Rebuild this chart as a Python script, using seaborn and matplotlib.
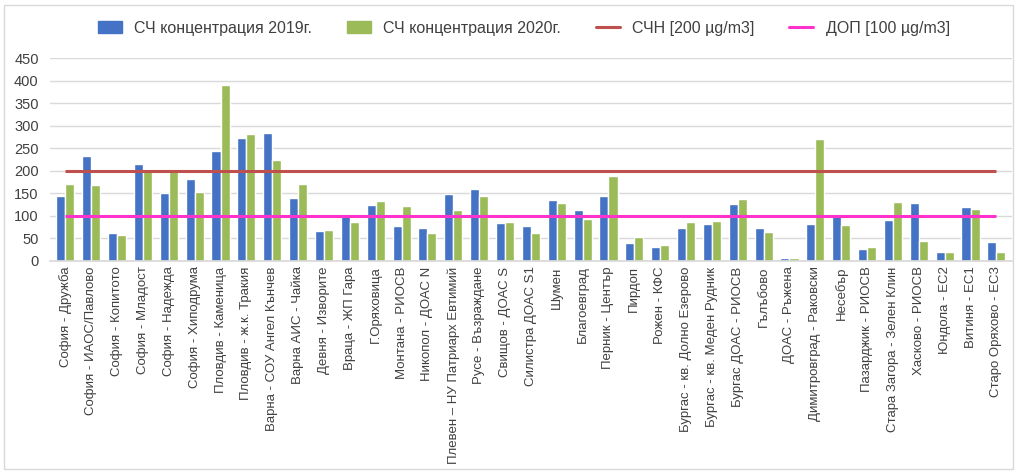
import numpy as np
import pandas as pd
import matplotlib
matplotlib.use("Agg")
import matplotlib.pyplot as plt
import seaborn as sns
from matplotlib.patches import Rectangle
from matplotlib.lines import Line2D
from matplotlib.patches import Patch

# данни
stations = [
    "София - Дружба", "София - ИАОС/Павлово", "София - Копитото", "София - Младост",
    "София - Надежда", "София - Хиподрума", "Пловдив - Каменица", "Пловдив - ж.к. Тракия",
    "Варна - СОУ Ангел Кънчев", "Варна АИС - Чайка", "Девня - Изворите", "Враца - ЖП Гара",
    "Г.Оряховица", "Монтана - РИОСВ", "Никопол - ДОАС N", "Плевен – НУ Патриарх Евтимий",
    "Русе - Възраждане", "Свищов - ДОАС S", "Силистра ДОАС S1", "Шумен",
    "Благоевград", "Перник - Център", "Пирдоп", "Рожен - КФС",
    "Бургас - кв. Долно Езерово", "Бургас - кв. Меден Рудник", "Бургас ДОАС - РИОСВ", "Гълъбово",
    "ДОАС - Ръжена", "Димитровград - Раковски", "Несебър", "Пазарджик - РИОСВ",
    "Стара Загора - Зелен Клин", "Хасково - РИОСВ", "Юндола - ЕС2", "Витиня - ЕС1",
    "Старо Оряхово - ЕС3",
]
conc_2019 = [145, 234, 63, 215, 152, 183, 244, 274, 285, 139, 67, 103, 124, 77, 74, 149,
             159, 84, 78, 136, 114, 145, 39, 30, 74, 83, 127, 73, 7, 81, 99, 26, 90, 128,
             20, 119, 43]
conc_2020 = [170, 168, 58, 200, 200, 154, 390, 281, 225, 170, 68, 87, 134, 123, 63, 114,
             144, 87, 61, 129, 94, 188, 54, 35, 87, 88, 138, 64, 6, 272, 80, 32, 131, 45,
             20, 116, 20]
series_names = ["СЧ концентрация 2019г.", "СЧ концентрация 2020г."]
chn = 200  # СЧН
dop = 100  # ДОП

blue = "#4472C4"
green = "#9BBB59"
red = "#C0504D"
pink = "#FF33CC"

df = pd.DataFrame({"Станция": stations * 2,
                   "Стойност": conc_2019 + conc_2020,
                   "Серия": [series_names[0]] * len(stations) + [series_names[1]] * len(stations)})

sns.set_theme(style="white")
plt.rcParams["font.family"] = ["Liberation Sans", "DejaVu Sans"]

fig = plt.figure(figsize=(10.17, 4.71), dpi=100)
ax = fig.add_axes([0.049, 0.446, 0.946, 0.43])

sns.barplot(data=df, x="Станция", y="Стойност", hue="Серия", palette=[blue, green],
            width=0.7, gap=0, saturation=1, legend=False, ax=ax)

n = len(stations)
ax.hlines(chn, 0, n - 1, color=red, linewidth=2.2, zorder=3)
ax.hlines(dop, 0, n - 1, color=pink, linewidth=2.2, zorder=3)

ax.set_ylim(0, 450)
ax.set_xlim(-0.6, n - 0.4)
ax.set_yticks(range(0, 451, 50))
ax.yaxis.grid(True, color="#D9D9D9", linewidth=1)
ax.set_axisbelow(True)
for s in ["top", "right", "left"]:
    ax.spines[s].set_visible(False)
ax.spines["bottom"].set_color("#D9D9D9")
ax.set_xlabel("")
ax.set_ylabel("")
ax.tick_params(axis="y", labelsize=10.5, colors="#404040", length=0, pad=8)
ax.tick_params(axis="x", labelsize=9.5, colors="#404040", length=0, pad=4)
plt.setp(ax.get_xticklabels(), rotation=90)

handles = [Patch(color=blue), Patch(color=green),
           Line2D([], [], color=red, linewidth=2.2), Line2D([], [], color=pink, linewidth=2.2)]
labels = series_names + ["СЧН [200 µg/m3]", "ДОП [100 µg/m3]"]
fig.legend(handles, labels, loc="center", bbox_to_anchor=(0.515, 0.94), ncol=4, frameon=False,
           fontsize=11.5, handlelength=1.5, handleheight=0.8, columnspacing=2.15,
           labelcolor="#404040")

fig.patches.append(Rectangle((0.004, 0.004), 0.992, 0.985, transform=fig.transFigure,
                             fill=False, edgecolor="#D9D9D9", linewidth=1))

fig.savefig("out.png", dpi=100, facecolor="white")
